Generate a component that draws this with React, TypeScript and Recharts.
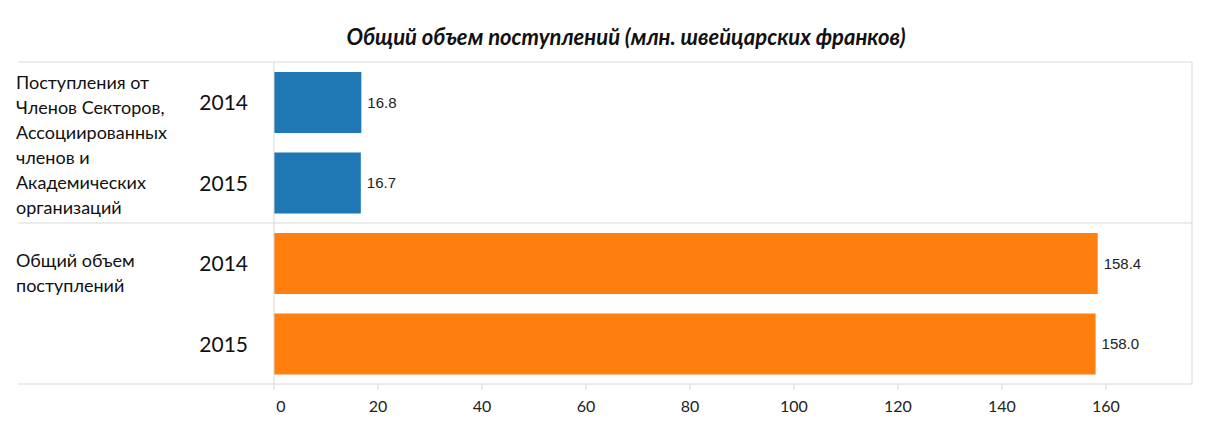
import {
  BarChart,
  Bar,
  XAxis,
  YAxis,
  CartesianGrid,
  ReferenceLine,
  LabelList,
  Cell,
} from "recharts";

const title = "Общий объем поступлений (млн. швейцарских франков)";

// Group labels, already split into lines as in the picture
const groupLines = [
  ["Поступления от", "Членов Секторов,", "Ассоциированных", "членов и", "Академических", "организаций"],
  ["Общий объем", "поступлений"],
];
const years = ["2014", "2015"];
const memberIncome = [16.8, 16.7];
const totalIncome = [158.4, 158.0];
const groupColors = ["#1f77b4", "#ff7f0e"];
const xTicks = [0, 20, 40, 60, 80, 100, 120, 140, 160];
// domain reaches left so the plot frame covers the label column
const xDomain = [-49.23, 176.54];

const rows = [memberIncome, totalIncome].flatMap((vals, g) =>
  vals.map((v, i) => ({ key: `${g}-${years[i]}`, group: g, year: years[i], value: v }))
);

// baseline of the first label line relative to first row centre
const groupLabelDy = [-13, 4];

const font = "Lato, 'Open Sans', sans-serif";
const gridColor = "#d9d9d9";

const YTick = (props: any) => {
  const { x, y, payload } = props;
  const row = rows.find((r) => r.key === payload.value);
  if (!row) return null;
  const firstInGroup = row.year === years[0];
  return (
    <g>
      <text x={x + 230} y={y} dy={8} textAnchor="end" fontFamily={font} fontSize={21} fill="#111">
        {row.year}
      </text>
      {firstInGroup &&
        groupLines[row.group].map((line, i) => (
          <text
            key={i}
            x={x - 2}
            y={y + groupLabelDy[row.group] + i * 25}
            fontFamily={font}
            fontSize={18}
            fill="#111"
          >
            {line}
          </text>
        ))}
    </g>
  );
};

const XTick = (props: any) => {
  const { x, y, payload } = props;
  return (
    <text x={x} y={y} dy={20} dx={payload.value === 0 ? 7 : 0} textAnchor="middle" fontFamily={font} fontSize={16} fill="#222">
      {payload.value}
    </text>
  );
};

export default function App() {
  return (
    <div style={{ position: "relative", width: 1199, height: 434 }}>
      <div
        style={{
          position: "absolute",
          left: 618,
          top: 18,
          transform: "translateX(-50%)",
          whiteSpace: "nowrap",
          fontFamily: font,
          fontSize: 22,
          lineHeight: "22px",
          fontWeight: 700,
          fontStyle: "italic",
          color: "#111",
        }}
      >
        {title}
      </div>
      <BarChart
        width={1199}
        height={434}
        data={rows}
        layout="vertical"
        margin={{ top: 54, right: 15, bottom: 28, left: 10 }}
      >
        <CartesianGrid
          vertical={false}
          stroke={gridColor}
          horizontalCoordinatesGenerator={({ offset }: any) => [offset.top, offset.top + offset.height / 2]}
        />
        <XAxis
          type="number"
          domain={xDomain}
          ticks={xTicks}
          height={30}
          axisLine={{ stroke: gridColor }}
          tickLine={{ stroke: gridColor }}
          tickSize={6}
          tickMargin={2}
          tick={<XTick />}
          interval={0}
        />
        <YAxis
          type="category"
          dataKey="key"
          mirror
          axisLine={false}
          tickLine={false}
          tickSize={0}
          tickMargin={0}
          tick={<YTick />}
          interval={0}
        />
        <ReferenceLine x={0} stroke={gridColor} />
        <ReferenceLine x={xDomain[1]} stroke={gridColor} />
        <Bar dataKey="value" barSize={61} isAnimationActive={false}>
          {rows.map((r) => (
            <Cell key={r.key} fill={groupColors[r.group]} />
          ))}
          <LabelList
            dataKey="value"
            position="right"
            offset={6}
            formatter={(v: any) => Number(v).toFixed(1)}
            fill="#222"
            fontSize={15}
            fontFamily="'Liberation Sans', Arial, sans-serif"
          />
        </Bar>
      </BarChart>
    </div>
  );
}
